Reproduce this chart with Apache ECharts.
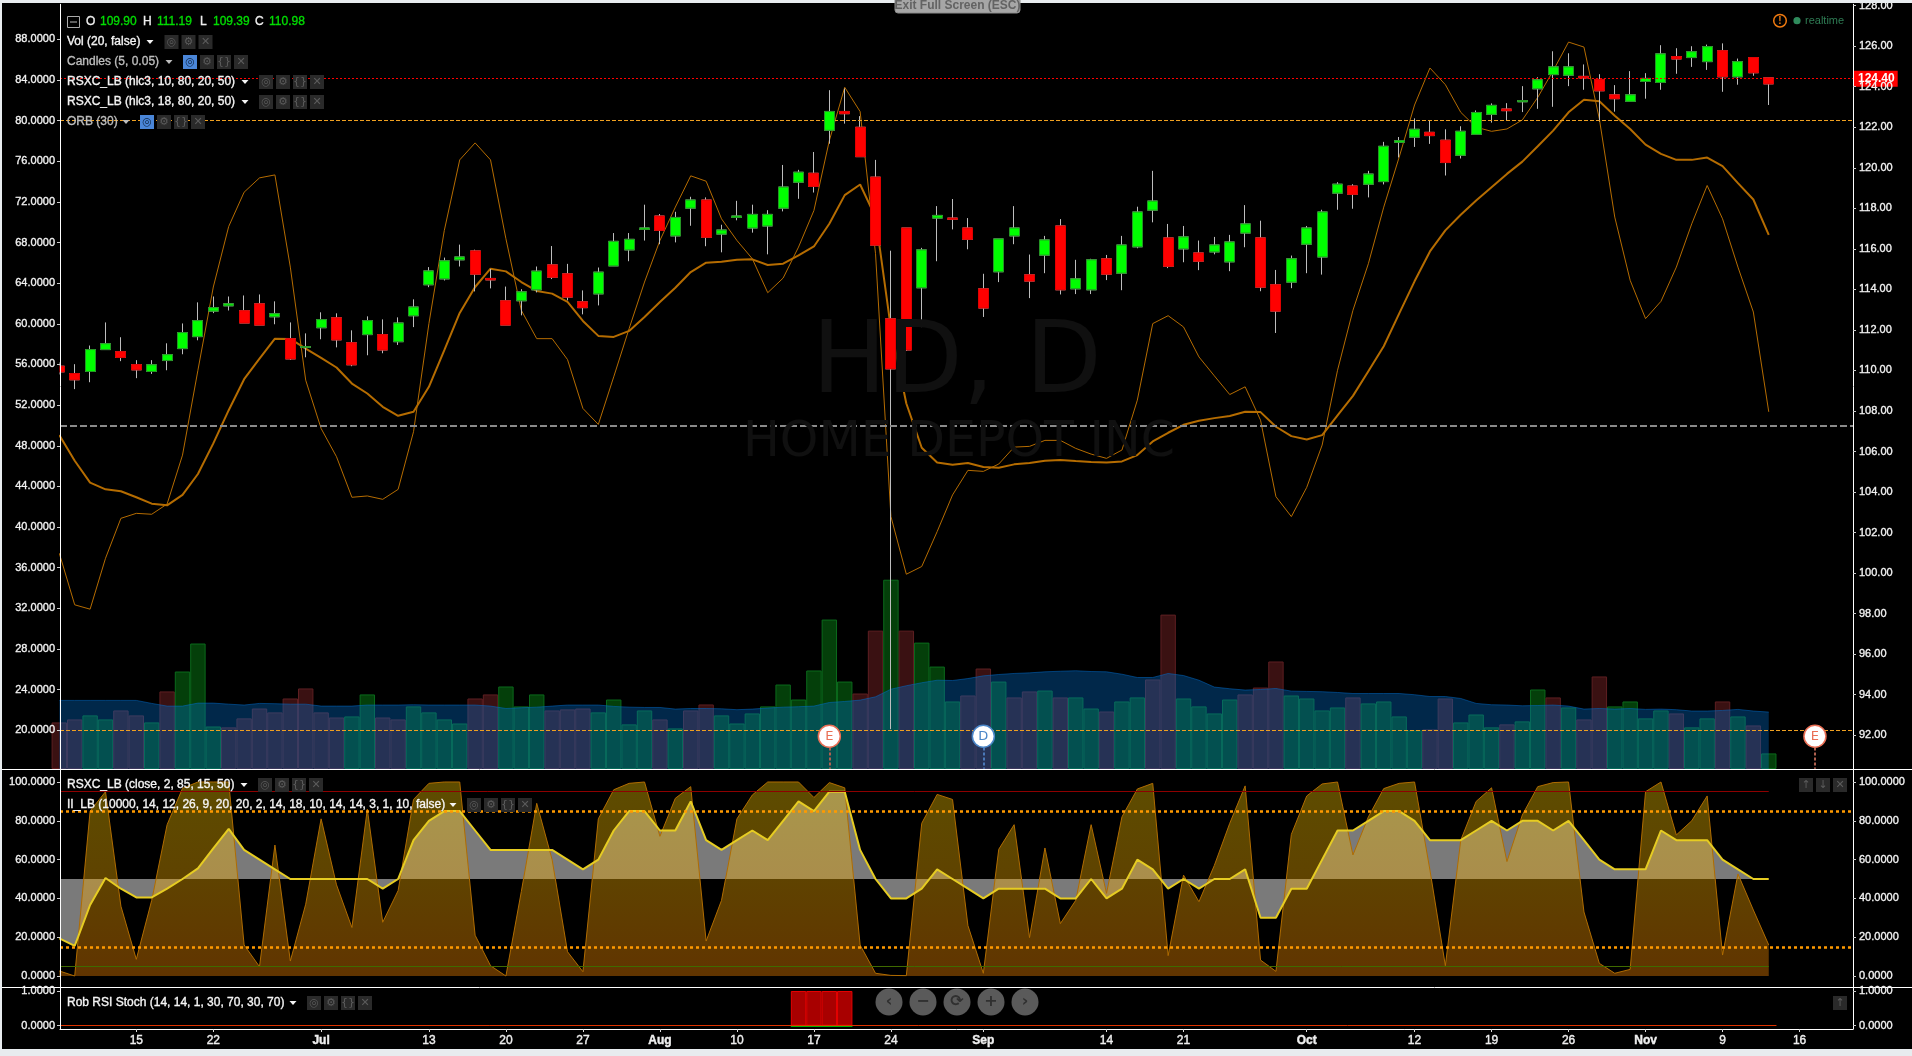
<!DOCTYPE html>
<html><head><meta charset="utf-8"><title>HD, D</title>
<style>html,body{margin:0;padding:0;background:#000;overflow:hidden}#c{width:1912px;height:1056px}</style>
<script src="https://cdn.jsdelivr.net/npm/echarts@6/dist/echarts.min.js"></script>
</head><body><div id="c"></div>
<script>
const opens=[110.21,109.85,109.95,111.03,110.93,110.29,109.95,110.49,111.08,111.67,112.93,113.19,112.95,113.29,112.65,111.57,111.14,112.11,112.60,111.37,111.77,111.77,111.42,112.70,114.23,114.52,115.46,115.90,114.54,113.44,113.44,113.98,115.21,114.77,113.39,113.78,115.16,115.95,116.96,117.62,116.64,118.01,118.41,116.73,117.55,117.03,117.13,118.01,119.29,119.73,121.85,122.78,122.00,119.54,112.55,117.03,114.08,117.52,117.52,117.03,114.03,114.87,116.64,114.72,115.69,117.13,114.03,113.98,115.51,114.80,116.10,117.91,116.54,116.00,115.80,115.85,115.36,116.78,116.54,114.23,114.36,116.23,115.60,118.75,119.10,119.19,119.32,121.26,121.51,121.75,121.36,120.62,121.65,122.64,122.90,123.26,123.90,124.60,124.57,124.51,124.36,123.60,123.28,124.26,124.21,125.49,125.44,125.24,125.78,124.49,125.44,124.44];
const closes=[109.93,109.54,111.03,111.32,110.64,110.03,110.28,110.78,111.87,112.46,113.10,113.29,112.34,112.24,112.80,110.57,111.18,112.51,111.51,110.28,112.46,111.01,112.34,113.13,114.91,115.41,115.60,114.75,114.47,112.24,113.88,114.90,114.60,113.62,113.10,114.85,116.37,116.47,117.03,116.91,117.55,118.41,116.57,116.93,117.62,117.70,117.70,119.05,119.78,119.08,122.78,122.67,120.55,116.18,110.08,111.01,115.95,117.65,117.46,116.47,113.08,116.49,117.03,114.41,116.44,113.98,114.52,115.46,114.75,116.19,117.82,118.36,115.14,116.59,115.39,116.19,116.34,117.23,114.11,112.93,115.51,117.03,117.82,119.19,118.69,119.69,121.06,121.34,121.90,121.59,120.26,121.80,122.73,123.08,122.82,123.32,124.34,124.98,124.98,124.44,123.80,123.41,123.60,124.41,125.62,125.37,125.73,125.98,124.49,125.24,124.69,124.14];
const lows=[109.8,109.08,109.42,111.03,110.46,109.62,109.83,110.01,110.80,111.49,112.83,112.96,112.34,112.24,112.28,110.52,110.65,111.54,111.14,110.21,110.75,110.85,111.26,112.14,114.11,114.44,115.13,113.90,114.05,112.24,112.72,113.85,114.51,113.46,112.77,113.21,115.16,115.39,116.41,116.23,116.32,117.14,116.13,115.83,117.41,116.80,115.73,117.85,118.47,118.78,121.19,122.18,120.55,116.18,92.30,110.96,112.14,115.39,116.96,115.98,112.64,114.36,116.23,113.57,114.80,113.75,113.77,113.77,114.46,113.96,116.03,117.31,115.05,115.34,114.95,115.73,114.90,116.08,113.91,111.85,114.06,114.80,114.73,117.93,117.98,118.54,119.18,120.51,121.03,121.18,119.62,120.46,121.65,122.23,122.34,122.75,122.91,123.01,124.03,123.85,122.28,122.77,123.28,123.41,123.85,124.64,124.98,124.83,123.75,124.10,124.54,123.10];
const highs=[110.4,110.31,111.23,112.37,111.64,110.51,110.51,111.34,112.32,113.36,113.65,113.65,113.70,113.75,113.41,112.37,111.83,112.87,112.82,111.98,112.67,112.52,112.62,113.51,115.10,115.57,116.21,115.96,115.01,114.14,114.01,115.13,116.14,115.26,113.95,115.08,116.78,116.78,118.18,117.72,117.83,118.57,118.54,117.19,118.37,118.18,117.91,120.14,119.90,120.78,123.83,123.91,122.55,120.39,115.91,117.03,116.05,118.11,118.46,117.52,114.77,116.49,118.11,115.72,116.64,117.47,115.46,115.51,115.70,116.64,118.08,119.85,117.23,117.13,116.41,116.59,116.69,118.16,117.39,114.96,115.67,117.13,117.93,119.29,119.19,119.85,121.28,121.52,122.44,122.34,121.90,122.05,122.83,123.18,123.19,124.03,124.47,125.75,125.65,125.10,124.62,124.08,124.77,124.67,126.05,125.90,126.00,126.08,126.14,125.39,125.44,124.44];
const volumes=[3.11,3.31,3.58,3.31,3.91,3.58,3.11,5.18,6.51,8.38,2.84,2.78,3.38,4.04,3.78,4.71,5.38,3.78,3.44,3.51,4.98,3.44,3.31,4.18,3.78,3.31,3.04,4.71,4.98,5.51,4.18,4.98,3.91,3.98,4.04,3.78,4.64,2.98,3.91,3.31,2.71,3.91,4.31,3.58,3.04,3.71,4.18,5.64,4.64,6.58,9.98,5.84,5.04,9.24,12.64,9.24,8.44,6.84,4.51,4.91,6.71,5.84,4.78,5.18,5.24,4.78,4.78,4.04,3.84,4.51,4.78,5.98,10.31,4.71,4.18,3.71,4.64,4.98,5.44,7.18,4.91,4.71,3.91,4.11,4.78,4.38,4.51,3.51,2.58,2.64,4.71,3.11,3.64,2.78,2.98,3.18,5.31,4.78,4.11,3.31,6.18,4.18,4.51,3.38,3.91,3.71,2.78,3.38,4.51,3.51,2.91,1.04];
const volumeDirection="DDUUDDUDUUUDDDDDDDDUUDDUUUUDDUUUDDDUUUUDUDDUUUUUUUUUDDUDUUUDDUDDUDUUDUUDDUUUUDDDUUUUDUUUUDDUUUDUUDUDDUUUUDUUDUDU";
const volumeAverage=[4.58,4.58,4.58,4.58,4.58,4.58,4.38,4.20,4.20,4.40,4.40,4.33,4.27,4.38,4.36,4.33,4.33,4.20,4.20,4.20,4.27,4.27,4.27,4.29,4.27,4.27,4.27,4.27,4.20,4.04,4.09,4.13,4.20,4.27,4.27,4.27,4.18,4.13,4.11,4.11,4.00,4.04,4.04,4.02,3.96,4.00,4.07,4.13,4.16,4.20,4.44,4.51,4.60,4.82,5.33,5.56,5.76,5.93,5.91,6.04,6.22,6.31,6.38,6.42,6.49,6.53,6.56,6.51,6.49,6.33,6.11,6.11,6.38,6.24,5.93,5.47,5.36,5.27,5.31,5.38,5.20,5.18,5.16,5.11,5.04,5.04,5.04,5.04,4.96,4.84,4.84,4.71,4.38,4.29,4.27,4.22,4.24,4.27,4.20,4.00,4.04,4.00,4.04,3.98,4.00,3.96,3.87,3.87,3.91,3.98,3.87,3.80];
const rsxFast=[37.42,32.35,31.92,36.93,40.86,41.35,41.26,42.27,47.08,55.43,63.62,69.58,72.95,74.36,74.65,65.58,54.45,49.70,46.92,42.93,43.06,42.73,43.71,49.38,60.02,69.19,76.13,77.80,76.13,68.37,61.33,58.54,58.54,56.48,51.67,50.10,54.78,59.53,64.11,68.20,71.48,74.56,74.03,70.33,68.20,66.40,63.06,64.50,67.55,71.15,78.03,83.27,80.88,66.89,41.03,35.36,36.12,39.55,43.16,45.58,45.48,46.20,47.87,47.94,48.53,48.53,47.74,47.18,46.76,47.58,52.49,60.02,60.80,59.69,56.74,54.88,53.04,53.80,50.52,42.99,41.03,43.91,48.07,55.43,61.33,65.91,71.48,76.39,81.53,85.17,83.53,80.81,79.34,78.94,79.17,80.06,82.28,84.90,87.72,87.23,80.16,70.50,64.28,60.51,62.21,65.58,69.84,73.61,70.33,65.58,61.16,51.34];
const rsxSlow=[49.05,46.53,44.37,43.71,43.52,42.93,42.30,42.14,43.16,45.22,48.23,51.50,54.55,56.58,58.54,58.51,57.56,56.65,55.70,54.12,53.14,51.83,50.95,51.34,53.80,57.40,61.07,63.62,65.42,65.16,64.11,63.23,62.97,62.15,60.28,58.81,58.71,59.30,60.67,62.15,63.55,65.09,66.01,66.11,66.31,66.34,65.78,65.91,66.73,67.61,69.84,72.66,73.71,70.50,59.53,52.16,47.80,46.36,46.13,46.30,45.91,45.84,46.17,46.30,46.53,46.59,46.49,46.40,46.36,46.46,47.08,48.43,49.28,50.06,50.46,50.72,50.92,51.34,51.31,49.87,48.95,48.62,49.05,50.98,52.91,55.34,57.79,61.00,64.18,67.12,69.19,70.73,72.13,73.44,74.75,75.96,77.47,79.01,80.81,82.05,81.89,80.48,79.17,77.63,76.72,76.13,76.13,76.36,75.51,73.84,72.23,68.76];
const rsxClose=[2.6,0,85,95,36,8.6,39,78,96.7,100,100,100,16,4.8,67.5,7.7,37,81,47,25,86,27.7,44,91,99.3,100,100,21,5.3,0,43.5,89,60,12.5,2.2,81,96,99.3,100,72,91.6,97.6,18,39,81,93.3,100,100,100,92,99.7,97,16,1.4,0.3,0.2,78.7,93.6,91,26,1.4,65.3,78,19.8,66,27,39,78,42.6,82,96.4,99.3,10.5,52,38.3,57,78.7,98,8.2,2.4,73,92.8,99,100,62.4,82,96.6,99.3,100,54.6,5.3,70,90,97,59,83,97.6,99.7,100,33,6.5,1.4,3.4,95,100,72.7,80,92.8,10.8,52.6,34,16];
const iiLine=[19.4,15.5,36.6,50.5,45,40.5,40.5,45,50,55.5,65.8,75.8,65,60,55,50,50,50,50,50,50,45,50,70,80,85,85,75,65,65,65,65,65,60,55,60,75,85,85,75,75,90,70,65,70,75,70,80,90,85,95,95,65,50,40,40,45,55,50,45,40,45,45,45,45,40,40,50,40,45,60,55,45,50,45,50,50,55,30,30,45,45,60,75,75,80,85,85,80,70,70,70,75,80,75,80,80,75,80,70,60,55,55,55,75,70,70,70,60,55,50,50];
const stochIndex=[48,49,50,51];
const stochValues=[1,1,1,1];
const earningsIndex=[50,114];
const dividendIndex=[60];
const lastPrice=124.40;
const tickIndex=[5,10,17,24,29,34,39,44,49,54,60,68,73,81,88,93,98,103,108,113];
const tickLabels=["15","22","Jul","13","20","27","Aug","10","17","24","Sep","14","21","Oct","12","19","26","Nov","9","16"];
const leftTicks=[20,24,28,32,36,40,44,48,52,56,60,64,68,72,76,80,84,88];
const rightTicks=[92,94,96,98,100,102,104,106,108,110,112,114,116,118,120,122,124,126,128];

const chart=echarts.init(document.getElementById('c'),null,{renderer:'canvas',width:1912,height:1056});
const idx=opens.map((_,i)=>i);
const X0=0.045,X1=116.47;
const FONT='"Liberation Sans", Arial, sans-serif';
const pts=a=>a.map((v,i)=>[i,v]);
const UP='#00ff00',DN='#ff0000';

function xAxis(g,show){return {gridIndex:g,type:'value',min:X0,max:X1,z:30,splitLine:{show:false},
  axisLine:{show:show,onZero:false,lineStyle:{color:'#fff',width:1}},
  axisTick:show?{show:true,length:3,lineStyle:{color:'#ddd'},customValues:tickIndex}:{show:false},
  axisLabel:show?{show:true,customValues:tickIndex,margin:6,color:'#eee',fontFamily:FONT,fontSize:12,textBorderColor:'#eee',textBorderWidth:0.4,
     rich:{m:{fontWeight:'bold',fontSize:12,color:'#eee',fontFamily:FONT}},
     formatter:v=>{const s=tickLabels[tickIndex.indexOf(v)]||'';return /[A-Z]/.test(s)?'{m|'+s+'}':s;}}:{show:false}};}
function yAxis(g,pos,min,max,ticks,dec){return {gridIndex:g,type:'value',position:pos,min,max,z:30,splitLine:{show:false},
  axisLine:{show:true,onZero:false,lineStyle:{color:'#fff',width:1}},
  axisTick:{show:true,length:3,lineStyle:{color:'#ccc'},customValues:ticks},
  axisLabel:{show:true,customValues:ticks,margin:pos==='left'?5:6,color:'#f2f2f2',fontFamily:FONT,fontSize:11,textBorderColor:'#e8e8e8',textBorderWidth:0.35,formatter:v=>v.toFixed(dec)}};}

const yAxes=[
 yAxis(0,'left',16.195,91.44,leftTicks,4),
 yAxis(0,'right',90.335,128.069,rightTicks,2),
 {gridIndex:0,type:'value',show:false,min:0,max:51.07,position:'right',splitLine:{show:false}},
 yAxis(1,'left',-5.67,106.7,[0,20,40,60,80,100],4),
 yAxis(1,'right',-5.67,106.7,[0,20,40,60,80,100],4),
 yAxis(2,'left',-0.095,1.115,[0,1],4),
 yAxis(2,'right',-0.095,1.115,[0,1],4)
];
const noSym=['none','none'];
function hline(y,color,type,width){return {yAxis:y,lineStyle:{color,type,width},label:{show:false}};}

const series=[
 {name:'Vol',type:'bar',xAxisIndex:0,yAxisIndex:2,z:1,barWidth:15.4,silent:true,
  data:volumes.map((v,i)=>({value:[i,v],itemStyle:volumeDirection[i]==='U'
     ?{color:'#043f0a',borderColor:'#0b6a1c',borderWidth:1}:{color:'#3a1112',borderColor:'#5e1f22',borderWidth:1}}))},
 {name:'Vol MA',type:'line',xAxisIndex:0,yAxisIndex:2,z:2,symbol:'none',silent:true,data:pts(volumeAverage),
  lineStyle:{color:'rgba(0,110,205,0.5)',width:1},areaStyle:{color:'rgba(2,110,205,0.36)',origin:0,opacity:1}},
 {name:'RSXC 10',type:'line',xAxisIndex:0,yAxisIndex:0,z:3,symbol:'none',silent:true,data:pts(rsxFast),lineStyle:{color:'#b56c00',width:1},
  markLine:{silent:true,symbol:noSym,animation:false,data:[hline(80,'#f0a020','dashed',1),hline(20,'#f0a020','dashed',1),hline(50,'#8a8a8a',[7,3],2)]}},
 {name:'RSXC 18',type:'line',xAxisIndex:0,yAxisIndex:0,z:3,symbol:'none',silent:true,data:pts(rsxSlow),lineStyle:{color:'#b56c00',width:2}},
 {name:'Wicks',type:'candlestick',xAxisIndex:0,yAxisIndex:1,z:4,barWidth:10.5,silent:true,
  itemStyle:{color:'#000',color0:'#000',borderColor:'#bdbdbd',borderColor0:'#bdbdbd',borderWidth:1},
  data:idx.map(i=>[i,opens[i],closes[i],lows[i],highs[i]]),
  markLine:{silent:true,symbol:noSym,animation:false,z:10,data:[
    {yAxis:lastPrice,lineStyle:{color:'#ff0000',type:[2,2],width:1},
     label:{show:true,position:'end',distance:0,formatter:lastPrice.toFixed(2),color:'#fff',backgroundColor:'#ff0000',
            fontFamily:FONT,fontSize:12,fontWeight:'bold',padding:[2,3,2,5]}}]}},
 {name:'Candles',type:'candlestick',xAxisIndex:0,yAxisIndex:1,z:5,barWidth:10.5,silent:true,
  itemStyle:{color:UP,color0:DN,borderColor:'#249624',borderColor0:'#e00000',borderWidth:1},
  data:idx.map(i=>[i,opens[i],closes[i],Math.min(opens[i],closes[i]),Math.max(opens[i],closes[i])])},
 {name:'Earnings',type:'scatter',xAxisIndex:0,yAxisIndex:1,z:9,symbol:'circle',symbolSize:22,silent:true,data:earningsIndex.map(i=>[i,91.95]),
  itemStyle:{color:'#fff',borderColor:'#ea6f55',borderWidth:1.5,opacity:1},label:{show:true,position:'inside',formatter:'E',color:'#ea6f55',fontSize:13,fontFamily:'"DejaVu Sans"'},
  markLine:{silent:true,symbol:noSym,animation:false,z:8,lineStyle:{color:'#b0604f',type:[3,2],width:2,opacity:1},label:{show:false},
     data:earningsIndex.map(i=>[{coord:[i,91.4]},{coord:[i,90.35]}])}},
 {name:'Dividend',type:'scatter',xAxisIndex:0,yAxisIndex:1,z:9,symbol:'circle',symbolSize:22,silent:true,data:dividendIndex.map(i=>[i,91.95]),
  itemStyle:{color:'#fff',borderColor:'#4a86c8',borderWidth:1.5,opacity:1},label:{show:true,position:'inside',formatter:'D',color:'#4a86c8',fontSize:13,fontFamily:'"DejaVu Sans"'},
  markLine:{silent:true,symbol:noSym,animation:false,z:8,lineStyle:{color:'#4a78b8',type:[3,2],width:2,opacity:1},label:{show:false},
     data:dividendIndex.map(i=>[{coord:[i,91.4]},{coord:[i,90.35]}])}},
 {name:'II gray',type:'line',xAxisIndex:1,yAxisIndex:3,z:2,symbol:'none',silent:true,data:pts(iiLine),lineStyle:{width:0},
  areaStyle:{color:'rgba(255,255,255,0.48)',origin:50,opacity:1}},
 {name:'RSXC close',type:'line',xAxisIndex:1,yAxisIndex:3,z:3,symbol:'none',silent:true,data:pts(rsxClose),lineStyle:{color:'#b06c00',width:1},
  areaStyle:{origin:0,opacity:1,color:{type:'linear',x:0,y:0,x2:0,y2:1,colorStops:[{offset:0,color:'rgba(241,197,0,0.39)'},{offset:0.5,color:'rgba(245,172,0,0.39)'},{offset:1,color:'rgba(250,135,0,0.39)'}]}},
  markLine:{silent:true,symbol:noSym,animation:false,z:6,label:{show:false},data:[
    hline(85,'#ff9a00',[3,3],2.5),hline(15,'#ff9a00',[3,3],2.5),
    [{coord:[X0,95],lineStyle:{color:'#8e0000',width:1,type:'solid'}},{coord:[111,95]}],
    [{coord:[X0,5.2],lineStyle:{color:'#3f6a00',width:1,type:'solid'}},{coord:[111,5.2]}]]}},
 {name:'II_LB',type:'line',xAxisIndex:1,yAxisIndex:3,z:5,symbol:'none',silent:true,data:pts(iiLine),lineStyle:{color:'#e6cc22',width:2}},
 {name:'Stoch',type:'bar',xAxisIndex:2,yAxisIndex:5,z:2,barWidth:15.4,silent:true,data:stochIndex.map((v,k)=>[v,stochValues[k]]),
  itemStyle:{color:'#a80000',borderColor:'#e60000',borderWidth:1},
  markLine:{silent:true,symbol:noSym,animation:false,z:6,label:{show:false},data:[
    [{coord:[X0,0],lineStyle:{color:'#dd3300',width:1,type:'solid'}},{coord:[111.5,0]}],
    [{coord:[47.5,-0.025],lineStyle:{color:'#00b000',width:1,type:'solid'}},{coord:[51.5,-0.025]}]]}}
];

/* ---- overlay furniture ---- */
const G=[];
function txt(text,x,y,fill,font,align,z,heavy){G.push({type:'text',z:z||20,silent:true,style:{text,x,y,fill,font:font||('12px '+FONT),textAlign:align||'left',textVerticalAlign:'middle',align:align||'left',verticalAlign:'middle',
   stroke:heavy?fill:null,lineWidth:heavy?0.35:0}});}
function rect(x,y,w,h,fill,z,r,stroke){G.push({type:'rect',z:z||20,silent:true,shape:{x,y,width:w,height:h,r:r||0},style:{fill,stroke:stroke||null,lineWidth:stroke?1:0}});}
function line(x1,y1,x2,y2,c,w,z){G.push({type:'line',z:z||15,silent:true,shape:{x1,y1,x2,y2},style:{stroke:c||'#fff',lineWidth:w||1}});}
function caret(x,y,c){G.push({type:'polygon',z:20,silent:true,shape:{points:[[x-3.5,y-2],[x+3.5,y-2],[x,y+2]]},style:{fill:c||'#ddd'}});}
const ICONFONT='11px "DejaVu Sans"';
function icon(x,y,g,on){rect(x,y-7,14,14,on?'#4a86d8':'#2a2a2a',18);txt(g,x+7,y,on?'#0d2340':'#5c5c5c',ICONFONT,'center',19);}
function row(label,y,col,caretX,iconX,glyphs,blue){txt(label,67,y,col,'12px '+FONT,'left',20,true);caret(caretX,y,col);
  glyphs.forEach((g,k)=>icon(iconX+17*k,y,g,blue&&k===0));}
const EYE='◎',GEAR='⚙',BR='{}',CL='✕';

rect(0,0,1912,3,'#e8ecef',40);rect(0,0,2,1056,'#e8ecef',40);rect(0,1049,1912,7,'#e8ecef',40);
line(2,769.5,1912,769.5);line(2,987.5,1912,987.5);
rect(44,350,15.5,30,'#000',6);

txt('HD, D',812,366,'#101010','99px "DejaVu Sans"','left',0);
txt('HOME DEPOT INC',743,443,'#101010','49px "DejaVu Sans"','left',0);

rect(67.5,16.5,12,11,'#000',20,0,'#aaa');line(70,22,77,22,'#bbb',1,21);
const H='12px '+FONT;
[['O',86,'#eee'],['109.90',100,'#00dd00'],['H',143,'#eee'],['111.19',157,'#00dd00'],['L',200,'#eee'],['109.39',213,'#00dd00'],['C',255,'#eee'],['110.98',269,'#00dd00']]
  .forEach(a=>txt(a[0],a[1],22,a[2],H,'left',20,true));
row('Vol (20, false)',42,'#f4f4f4',150,164.5,[EYE,GEAR,CL]);
row('Candles (5, 0.05)',62,'#bdbdbd',169,183,[EYE,GEAR,BR,CL],true);
row('RSXC_LB (hlc3, 10, 80, 20, 50)',82,'#f4f4f4',245,259,[EYE,GEAR,BR,CL]);
row('RSXC_LB (hlc3, 18, 80, 20, 50)',102,'#f4f4f4',245,259,[EYE,GEAR,BR,CL]);
row('ORB (30)',122,'#bdbdbd',126,140,[EYE,GEAR,BR,CL],true);
row('RSXC_LB (close, 2, 85, 15, 50)',785,'#f4f4f4',244,258,[EYE,GEAR,BR,CL]);
row('II_LB (10000, 14, 12, 26, 9, 20, 20, 2, 14, 18, 10, 14, 14, 3, 1, 10, false)',805,'#f4f4f4',453,467,[EYE,GEAR,BR,CL]);
row('Rob RSI Stoch (14, 14, 1, 30, 70, 30, 70)',1003,'#f4f4f4',293,307,[EYE,GEAR,BR,CL]);
[['↑',1799],['↓',1816],['✕',1833]].forEach(a=>icon(a[1],785,a[0]));
icon(1833,1003,'↑');

[['‹',889],['−',923],['⟳',957],['+',991],['›',1025]].forEach(a=>{
  G.push({type:'circle',z:20,silent:true,shape:{cx:a[1],cy:1002,r:13.5},style:{fill:'#5a5a5a'}});
  txt(a[0],a[1],1002,'#303030','bold 16px "DejaVu Sans"','center',21);});

rect(895,-4,125,17,'#a6a6a6',41,3,'#8c8c8c');
txt('Exit Full Screen (ESC)',957.5,6,'#636363','bold 12px '+FONT,'center',42);

G.push({type:'circle',z:20,silent:true,shape:{cx:1780,cy:20.7,r:6.3},style:{fill:'#000',stroke:'#f07a10',lineWidth:1.5}});
txt('!',1780,21,'#f07a10','bold 10px '+FONT,'center',21);
G.push({type:'circle',z:20,silent:true,shape:{cx:1797,cy:20.7,r:3.6},style:{fill:'#2f8b5c'}});
txt('realtime',1805,20.7,'#2f7d55','11px '+FONT);

chart.setOption({animation:false,backgroundColor:'#000',
 grid:[{left:60,right:59,top:3,height:766},{left:60,right:59,top:769,height:218},{left:60,right:59,top:987,height:42}],
 xAxis:[xAxis(0,false),xAxis(1,false),xAxis(2,true)],yAxis:yAxes,series,graphic:{elements:G}});
</script></body></html>
